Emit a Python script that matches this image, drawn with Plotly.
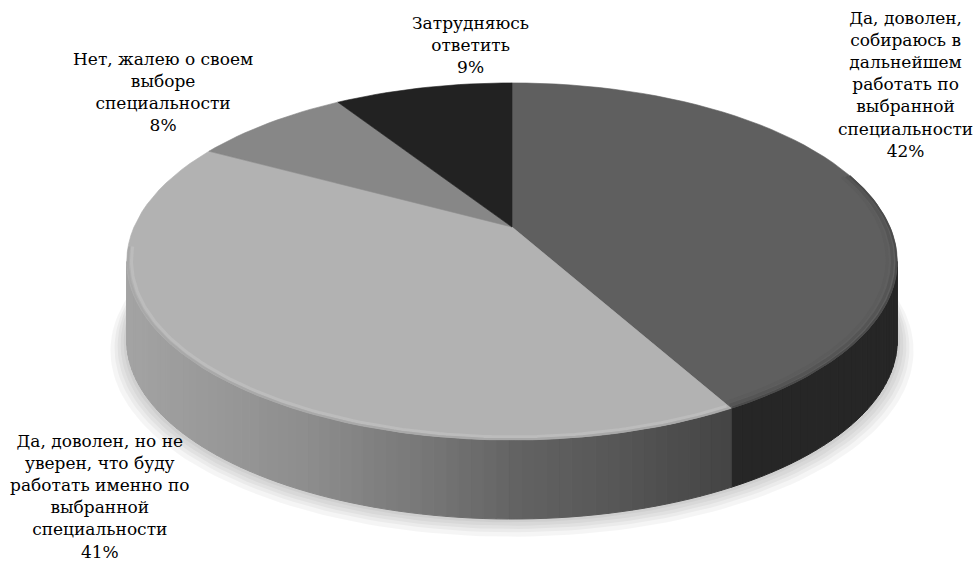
import numpy as np
import plotly.graph_objects as go

# ---- data ----
categories = [
    "Да, доволен,<br>собираюсь в<br>дальнейшем<br>работать по<br>выбранной<br>специальности",
    "Да, доволен, но не<br>уверен, что буду<br>работать именно по<br>выбранной<br>специальности",
    "Нет, жалею о своем<br>выборе<br>специальности",
    "Затрудняюсь<br>ответить",
]
values = [42, 41, 8, 9]

# ---- styles ----
top_colors = ["#5f5f5f", "#b2b2b2", "#878787", "#222222"]
side_stops = [(120, 164), (300, 142), (430, 118), (520, 98), (620, 86), (730, 68)]
label_pos = [(905, 84), (100, 496), (163, 92), (470, 45)]
FONT = "DejaVu Serif"

# projection (perspective 3D pie) parameters
cx, cy = 512.0, 227.0
A, B, K = 378.0, 171.9, 0.193
DEPTH = 79.0


def proj(theta, r=1.0, drop=0.0, grow=0.0):
    u = r * np.sin(theta)
    v = r * np.cos(theta)
    d = 1 + K * v
    x = cx + (A + grow) * u / d
    y = cy - (B + grow * 0.45) * v / d + drop
    return x, y


fig = go.Figure()


def poly(xs, ys, color, lw=0.8, lcolor=None):
    fig.add_trace(go.Scatter(
        x=list(xs), y=list(ys), mode="lines", fill="toself",
        fillcolor=color, line=dict(color=lcolor or color, width=lw),
        hoverinfo="skip", showlegend=False))


def arc_line(t, r, col, w):
    xs, ys = proj(t, r=r)
    fig.add_trace(go.Scatter(x=xs, y=ys, mode="lines", line=dict(color=col, width=w),
                             hoverinfo="skip", showlegend=False))


total = float(sum(values))
angles = np.concatenate([[0], np.cumsum(values) / total * 2 * np.pi])

# soft shadow
full = np.linspace(0, 2 * np.pi, 240)
for s in [16, 12, 9, 6, 3]:
    xs, ys = proj(full, drop=DEPTH + s * 0.55, grow=s)
    poly(xs, ys, "rgba(0,0,0,0.04)", lw=0)

# visible side arc (front)
th_r = np.arccos(-K)
th_l = 2 * np.pi - th_r


def gray_at(x):
    g = int(round(np.interp(x, [p[0] for p in side_stops], [p[1] for p in side_stops])))
    return f"rgb({g},{g},{g})"


for i in range(len(values)):
    a0, a1 = angles[i], angles[i + 1]
    s0, s1 = max(a0, th_r), min(a1, th_l)
    if s1 <= s0:
        continue
    n = 70 if i == 1 else 30
    ts = np.linspace(s0, s1, n + 1)
    for j in range(n):
        t = np.linspace(ts[j], ts[j + 1], 3)
        xt, yt = proj(t)
        xb, yb = proj(t[::-1], drop=DEPTH)
        xm = float(np.mean(xt))
        col = gray_at(xm) if i == 1 else "#262626"
        poly(np.concatenate([xt, xb, xt[:1]]), np.concatenate([yt, yb, yt[:1]]), col, lw=1.0)

# top faces
for i in range(len(values)):
    a0, a1 = angles[i], angles[i + 1]
    t = np.linspace(a0, a1, max(int(120 * values[i] / total) + 8, 10))
    xa, ya = proj(t)
    poly(np.concatenate([[cx], xa, [cx]]), np.concatenate([[cy], ya, [cy]]), top_colors[i], lw=0.6)

# soft bevel along the front rim
t = np.linspace(angles[1] + 0.004, 4.60, 120)
arc_line(t, 0.988, "#bcbcbc", 3.0)
arc_line(t, 0.997, "#a9a9a9", 2.0)
t = np.linspace(1.25, angles[1] - 0.004, 80)
arc_line(t, 0.975, "#5c5c5c", 3.0)
arc_line(t, 0.988, "#555555", 3.0)
arc_line(t, 0.998, "#4b4b4b", 2.0)

# labels
for i, (lab, v) in enumerate(zip(categories, values)):
    fig.add_annotation(x=label_pos[i][0], y=label_pos[i][1], xref="x", yref="y",
                       text=f"{lab}<br>{v}%", showarrow=False,
                       xanchor="center", yanchor="middle", align="center",
                       font=dict(family=FONT, size=17, color="#000000"))

fig.update_layout(
    width=980, height=570, margin=dict(l=0, r=0, t=0, b=0),
    paper_bgcolor="white", plot_bgcolor="white", showlegend=False,
    font=dict(family=FONT),
    xaxis=dict(range=[0, 980], visible=False, fixedrange=True),
    yaxis=dict(range=[570, 0], visible=False, fixedrange=True),
)
fig.write_html("out.html")
